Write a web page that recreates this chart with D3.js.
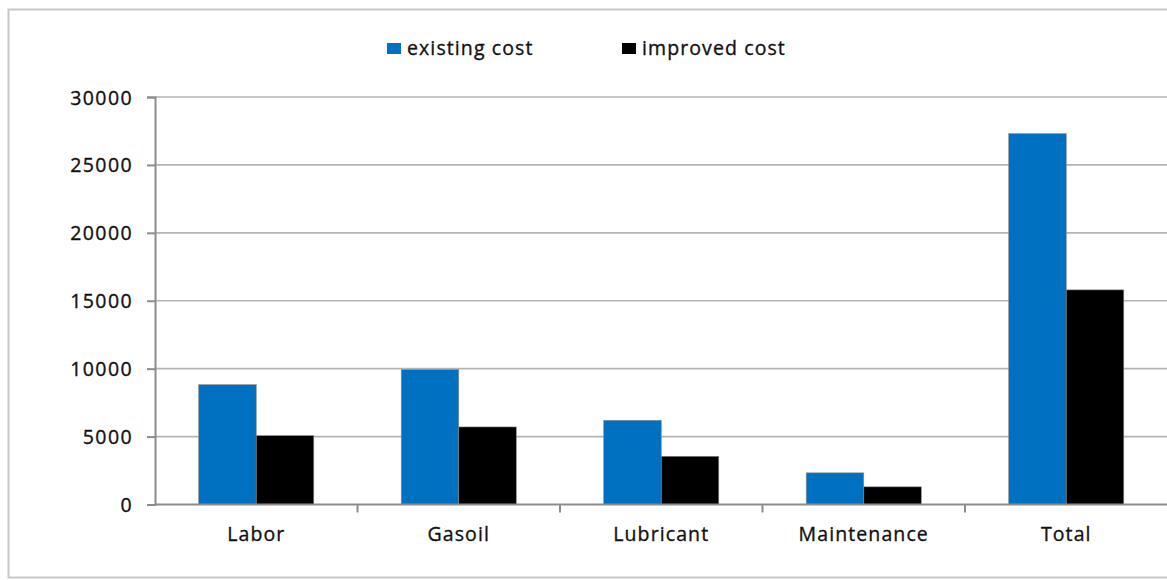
<!DOCTYPE html>
<html>
<head>
<meta charset="utf-8">
<script src="https://cdn.jsdelivr.net/npm/d3@7"></script>
<style>
  html, body { margin: 0; padding: 0; background: #fff; }
  svg { display: block; }
  text { font-family: "Open Sans", "Liberation Sans", sans-serif; fill: #111; stroke: #111; stroke-width: 0.35px; }
</style>
</head>
<body>
<svg id="chart" width="1167" height="580"></svg>
<script>
// Cost comparison per category
const categories = ["Labor", "Gasoil", "Lubricant", "Maintenance", "Total"];
const seriesNames = ["existing cost", "improved cost"];
const existingCost = [8820, 9930, 6200, 2330, 27300];
const improvedCost = [5070, 5710, 3550, 1300, 15800];
const yTicks = [0, 5000, 10000, 15000, 20000, 25000, 30000];

const colors = { "existing cost": "#0070C0", "improved cost": "#000000" };

const svg = d3.select("#chart");
const W = 1167, H = 580;
const margin = { left: 155, right: 0, top: 97, bottom: 75.5 };

// Outer chart frame (continues past the right edge)
svg.append("rect")
  .attr("x", 8.5).attr("y", 9.5)
  .attr("width", W + 20).attr("height", 568)
  .attr("fill", "none").attr("stroke", "#c8c8c8").attr("stroke-width", 2);

const x = d3.scaleBand()
  .domain(categories)
  .range([margin.left, W + 0.5])
  .paddingInner(0).paddingOuter(0);

const y = d3.scaleLinear()
  .domain([0, 30000])
  .range([H - margin.bottom, margin.top]);

const xSub = d3.scaleBand()
  .domain(seriesNames)
  .range([0, x.bandwidth()])
  .paddingOuter(0.76)
  .paddingInner(0);

// Horizontal gridlines
svg.append("g")
  .selectAll("line")
  .data(yTicks.filter(d => d > 0))
  .join("line")
  .attr("x1", margin.left).attr("x2", W)
  .attr("y1", d => y(d)).attr("y2", d => y(d))
  .attr("stroke", "#b4b4b4").attr("stroke-width", 1.6);

// Bars
const rows = categories.map((c, i) => ({
  category: c,
  values: [
    { series: "existing cost", value: existingCost[i] },
    { series: "improved cost", value: improvedCost[i] }
  ]
}));

svg.append("g")
  .selectAll("g")
  .data(rows)
  .join("g")
  .attr("transform", d => `translate(${x(d.category)},0)`)
  .selectAll("rect")
  .data(d => d.values)
  .join("rect")
  .attr("x", d => xSub(d.series))
  .attr("width", xSub.bandwidth())
  .attr("y", d => y(d.value))
  .attr("height", d => y(0) - y(d.value))
  .attr("fill", d => colors[d.series])
  .attr("stroke", "#8a8a8a").attr("stroke-width", 0.6);

// Y axis
const yAxis = d3.axisLeft(y)
  .tickValues(yTicks)
  .tickFormat(d3.format("d"))
  .tickSize(8)
  .tickPadding(14);

const gy = svg.append("g")
  .attr("transform", `translate(${margin.left},0)`)
  .call(yAxis);
gy.select(".domain").attr("stroke", "#8c8c8c").attr("stroke-width", 2);
gy.selectAll(".tick line").attr("stroke", "#8c8c8c").attr("stroke-width", 2);
gy.selectAll(".tick text")
  .attr("font-size", 19.5)
  .attr("letter-spacing", 1.4)
  .attr("dy", "0.36em");

// X axis: baseline plus ticks at category boundaries
svg.append("line")
  .attr("x1", margin.left).attr("x2", W)
  .attr("y1", y(0)).attr("y2", y(0))
  .attr("stroke", "#8c8c8c").attr("stroke-width", 2);

const boundaries = categories.slice(1).map(c => x(c));
svg.append("g")
  .selectAll("line")
  .data(boundaries)
  .join("line")
  .attr("x1", d => d).attr("x2", d => d)
  .attr("y1", y(0)).attr("y2", y(0) + 8)
  .attr("stroke", "#8c8c8c").attr("stroke-width", 2);

svg.append("g")
  .selectAll("text")
  .data(categories)
  .join("text")
  .attr("x", d => x(d) + x.bandwidth() / 2)
  .attr("y", 541)
  .attr("text-anchor", "middle")
  .attr("font-size", 19.5)
  .attr("letter-spacing", 1.1)
  .text(d => d);

// Legend
const legendItems = [
  { name: "existing cost", x: 387 },
  { name: "improved cost", x: 622 }
];
const lg = svg.append("g")
  .selectAll("g")
  .data(legendItems)
  .join("g")
  .attr("transform", d => `translate(${d.x},0)`);
lg.append("rect")
  .attr("x", 0).attr("y", 43)
  .attr("width", 14).attr("height", 11)
  .attr("fill", d => colors[d.name]);
lg.append("text")
  .attr("x", 20).attr("y", 55)
  .attr("font-size", 19.5)
  .attr("letter-spacing", 1.1)
  .text(d => d.name);
</script>
</body>
</html>
